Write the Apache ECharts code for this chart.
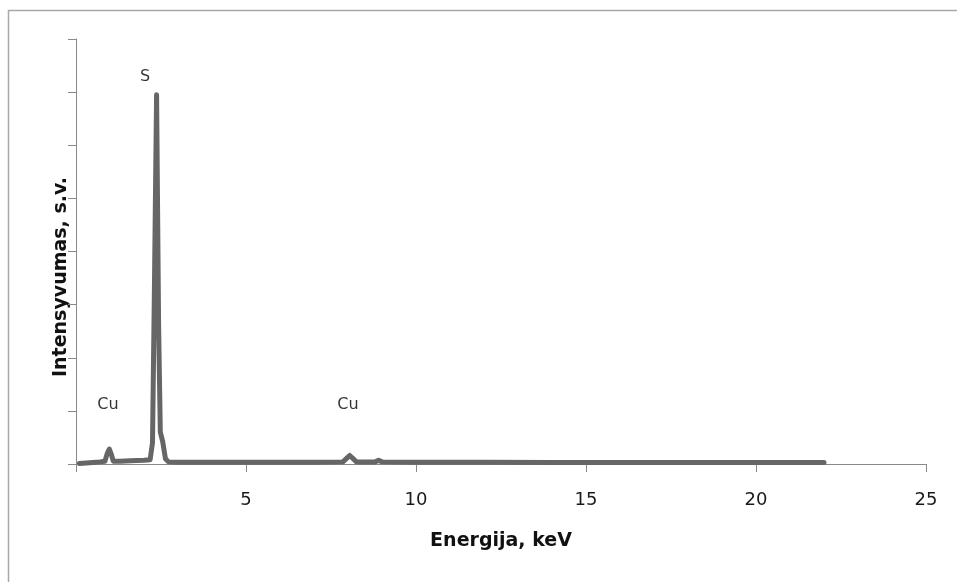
<!DOCTYPE html>
<html>
<head>
<meta charset="utf-8">
<script src="https://cdn.jsdelivr.net/npm/echarts@6/dist/echarts.min.js"></script>
<style>html,body{margin:0;padding:0;background:#fff;}#c{width:957px;height:582px;}</style>
</head>
<body>
<div id="c"></div>
<script>
// Energy (keV) and intensity (arbitrary units, thousands)
const energy = [0.10,0.30,0.50,0.70,0.85,0.92,0.98,1.04,1.10,1.30,1.60,2.00,2.18,2.25,2.31,2.37,2.43,2.48,2.55,2.63,2.72,3.00,4.00,5.00,6.00,7.00,7.85,7.95,8.05,8.15,8.25,8.80,8.90,9.00,10.0,12.0,14.0,16.0,18.0,20.0,22.0];
const intensity = [0.01,0.02,0.03,0.04,0.05,0.20,0.28,0.18,0.05,0.05,0.06,0.07,0.08,0.40,3.50,6.95,2.60,0.60,0.42,0.10,0.04,0.035,0.035,0.035,0.035,0.035,0.04,0.10,0.16,0.10,0.04,0.04,0.07,0.04,0.035,0.035,0.03,0.03,0.03,0.03,0.03];
const xTicks = [0,5,10,15,20,25];
const peakNames = ['Cu','S','Cu'];
const peakLabelX = [0.94,2.03,8.00];
const peakLabelY = [1.11,7.28,1.11];
const xTitle = 'Energija, keV';
const yTitle = 'Intensyvumas, s.v.';

const chart = echarts.init(document.getElementById('c'), null, {renderer:'canvas'});
const axisColor = '#8a8a8a';
const font = '"DejaVu Sans", sans-serif';
chart.setOption({
  animation:false,
  backgroundColor:'#ffffff',
  grid:{left:76, right:31, top:39, bottom:118, containLabel:false},
  xAxis:{
    type:'value', min:xTicks[0], max:xTicks[xTicks.length-1], interval:5,
    axisLine:{lineStyle:{color:axisColor,width:1}},
    axisTick:{show:true,length:8,lineStyle:{color:axisColor}},
    splitLine:{show:false},
    axisLabel:{margin:27,color:'#1a1a1a',fontSize:18,fontFamily:font,
      formatter:v=> (v===0?'':String(v))},
    name:xTitle, nameLocation:'middle', nameGap:68,
    nameTextStyle:{fontWeight:'bold',fontSize:19,color:'#111',fontFamily:font}
  },
  yAxis:{
    type:'value', min:0, max:8, interval:1,
    axisLine:{show:true,lineStyle:{color:axisColor,width:1}},
    axisTick:{show:true,length:8,lineStyle:{color:axisColor}},
    splitLine:{show:false},
    axisLabel:{show:false}
  },
  graphic:[
    {type:'rect', shape:{x:8.5,y:10.5,width:1200,height:1200}, style:{fill:null,stroke:'#a8a8a8',lineWidth:1.5}, silent:true, z:-1},
    {type:'text', x:61, y:277, rotation:Math.PI/2, style:{text:yTitle, fontWeight:'bold', fontSize:19, fontFamily:font, fill:'#111', align:'center', verticalAlign:'middle'}}
  ],
  series:[
    {type:'line', data:energy.map((e,i)=>[e,intensity[i]]), showSymbol:false, symbol:'none',
     lineStyle:{color:'#666666',width:5,join:'round',cap:'round'}},
    {type:'scatter', symbolSize:0, data:peakNames.map((n,i)=>({name:n,value:[peakLabelX[i],peakLabelY[i]]})),
     label:{show:true,position:'inside',formatter:p=>p.name,color:'#000',textBorderWidth:0,fontSize:16,fontFamily:font}}
  ]
});
</script>
</body>
</html>
